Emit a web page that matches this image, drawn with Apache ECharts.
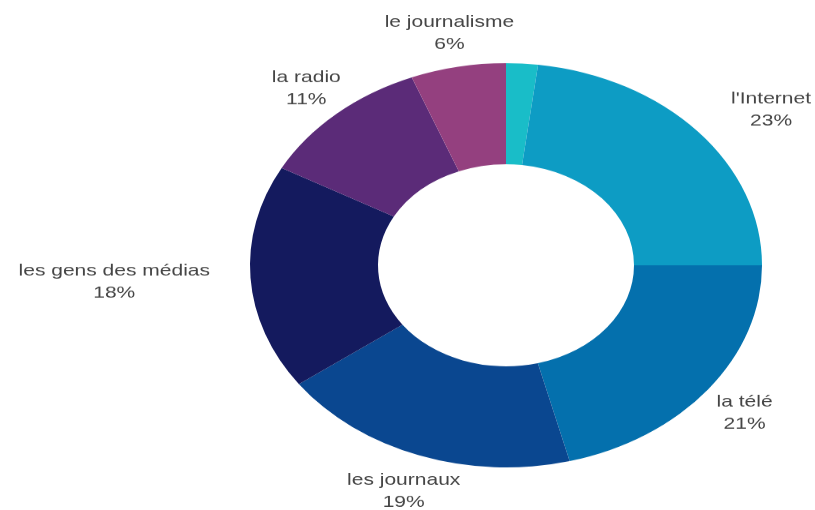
<!DOCTYPE html>
<html>
<head>
<meta charset="utf-8">
<script src="https://cdn.jsdelivr.net/npm/echarts@6/dist/echarts.min.js"></script>
<style>
  html, body { margin: 0; padding: 0; background: #ffffff; overflow: hidden; }
  #wrap { width: 815px; height: 510px; overflow: hidden; position: relative; }
  #chart { width: 815px; height: 646px; transform: scaleY(0.7895); transform-origin: 0 0; }
</style>
</head>
<body>
<div id="wrap"><div id="chart"></div></div>
<script>
// Data
const categories = ['', "l'Internet", 'la télé', 'les journaux', 'les gens des médias', 'la radio', 'le journalisme'];
const values = [2, 23, 21, 19, 18, 11, 6];
const colors = ['#19bdc8', '#0d9cc4', '#0470ad', '#0a4790', '#141a5e', '#5b2b78', '#94407f'];

// Layout constants (unscaled chart coordinates)
const W = 815;
const CX = 506, CY = 336, R_OUT = 256, R_IN = 128;
const LABEL_DIST = 302, LABEL_DY = 2.5, PUSH_GAP = 40, EDGE_MARGIN = 4;

const total = values.reduce((a, b) => a + b, 0);
const cum = [];
values.reduce((acc, v, i) => { cum[i] = acc; return acc + v; }, 0);

const chart = echarts.init(document.getElementById('chart'), null, { renderer: 'canvas' });

const data = categories.map((name, i) => ({
  name: name,
  value: values[i],
  itemStyle: { color: colors[i] },
  label: { show: i !== 0 }
}));

function nearestDist(x, y, w, h) {
  const nx = Math.min(Math.max(CX, x - w / 2), x + w / 2);
  const ny = Math.min(Math.max(CY, y - h / 2), y + h / 2);
  return Math.hypot(nx - CX, ny - CY);
}

chart.setOption({
  backgroundColor: '#ffffff',
  animation: false,
  series: [{
    type: 'pie',
    center: [CX, CY],
    radius: [R_IN, R_OUT],
    startAngle: 90,
    clockwise: true,
    avoidLabelOverlap: false,
    data: data,
    itemStyle: { borderWidth: 0 },
    label: {
      show: true,
      position: 'outside',
      formatter: p => p.name + '\n' + p.value + '%',
      fontFamily: 'Liberation Sans, Arial, sans-serif',
      fontSize: 21,
      lineHeight: 28,
      color: '#454545',
      align: 'center'
    },
    labelLine: { show: false },
    labelLayout: function (p) {
      const i = p.dataIndex;
      const mid = (cum[i] + values[i] / 2) / total * Math.PI * 2;
      const ux = Math.sin(mid), uy = -Math.cos(mid);
      const w = p.labelRect.width, h = p.labelRect.height;
      let x = CX + LABEL_DIST * ux;
      const y = CY + LABEL_DIST * uy + LABEL_DY;
      if (nearestDist(x, y, w, h) < R_OUT) {
        const ny = Math.min(Math.max(CY, y - h / 2), y + h / 2);
        const dy = ny - CY;
        const half = Math.abs(dy) < R_OUT ? Math.sqrt(R_OUT * R_OUT - dy * dy) : 0;
        if (ux >= 0) {
          x = CX + half + PUSH_GAP + w / 2;
        } else {
          x = CX - half - PUSH_GAP - w / 2;
        }
        x = Math.min(Math.max(x, EDGE_MARGIN + w / 2), W - EDGE_MARGIN - w / 2);
      }
      return { x: x, y: y, align: 'center', verticalAlign: 'middle' };
    }
  }]
});
</script>
</body>
</html>
